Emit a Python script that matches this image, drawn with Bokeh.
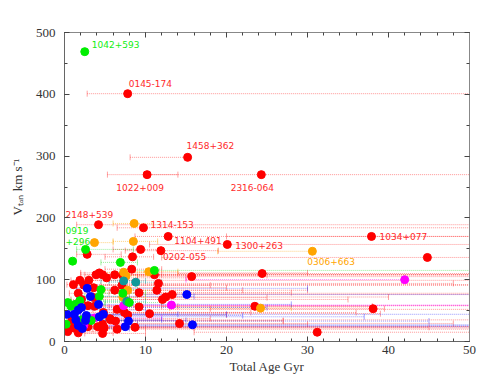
import math
from bokeh.plotting import figure
from bokeh.models import ColumnDataSource, LinearAxis, Range1d, FixedTicker
from bokeh.core.properties import value
from bokeh.embed import file_html
from bokeh.resources import INLINE

# ---------------- data ----------------
red_x = [7.8, 15.2, 10.2, 24.3, 4.2, 9.75, 12.8, 20.1, 11.9, 37.9, 44.8, 2.8, 9.4, 8.4,
         11.1, 15.7, 11.6, 11.4, 12.1, 12.5, 13.3, 10.5, 14.2, 6.2, 7.2, 8.3, 7.1, 9.2,
         9.2, 6.2, 6.5, 7.4, 7.8, 6.3, 8.7, 5.6, 6.5, 4.3, 3.9, 4.7, 5.2, 3.6, 3.0, 3.6,
         2.9, 3.7, 4.8, 4.1, 4.9, 4.7, 5.7, 4.7, 1.1, 1.9, 1.7, 2.1, 2.4, 0.4, 0.9, 1.1,
         1.7, 2.0, 3.2, 2.9, 24.4, 23.5, 38.1, 31.2]
red_y = [401, 298, 270, 270, 189, 184, 170, 157, 147, 170, 136, 141, 149, 137,
         108, 105, 94, 83, 68, 72, 76, 45, 29, 108, 107, 117, 91, 79,
         56, 83, 52, 47, 43, 33, 23, 37, 20, 111, 108, 108, 103, 87, 99, 71,
         58, 57, 47, 24, 22, 13, 35, 28, 92, 99, 78, 68, 91, 16, 34, 22,
         14, 22, 34, 24, 110, 57, 53, 15]
red_lo = [2.8, 8.1, 5.3, 9.8, 1.5, 6.5, 8.7, 10.5, 7.5, 20.0, 12.0, 1.5, 6.0, 5.0,
          6.5, 9.0, 7.0, 6.5, 8.0, 8.0, 9.0, 6.0, 9.0, 3.5, 4.0, 5.0, 4.5, 5.5,
          5.5, 3.5, 3.5, 4.5, 4.5, 3.5, 5.0, 3.0, 3.5, 2.0, 2.0, 2.5, 3.0, 1.5, 1.5, 1.5,
          1.5, 2.0, 2.5, 2.0, 2.5, 2.5, 3.0, 2.5, 0.3, 0.8, 0.6, 0.8, 1.0, 0.1, 0.3, 0.4,
          0.6, 0.8, 1.5, 1.2, 14.0, 12.0, 18.0, 16.0]
red_hi = [60, 15.2, 14.0, 60, 60, 60, 50, 60, 19.0, 60, 60, 7.0, 12.0, 11.0,
          60, 60, 48, 30, 35, 40, 60, 39, 48, 60, 25, 12, 60, 28,
          38, 22, 60, 36, 20, 27, 45, 18, 60, 30, 12, 60, 15, 20, 60, 25,
          60, 14, 23, 60, 16, 10, 60, 30, 60, 9, 60, 12, 18, 5, 8, 60,
          6, 10, 27, 60, 60, 38, 39.5, 60]

green_x = [2.5, 2.6, 1.0, 6.9, 11.1, 4.5, 4.3, 7.2, 8.0, 0.4, 0.8, 1.3, 1.9, 2.1, 0.2, 3.3]
green_y = [469, 149, 130, 128, 115, 84, 73, 78, 63, 63, 57, 60, 66, 35, 28, 34]
green_lo = [2.5, 1.5, 0.6, 4.5, 8.0, 2.5, 2.5, 4.5, 5.0, 0.1, 0.2, 0.5, 0.8, 0.8, 0.0, 1.5]
green_hi = [2.5, 8.5, 1.4, 9.0, 60, 9.0, 8.0, 10.0, 12.0, 4.0, 3.0, 5.0, 7.0, 6.0, 2.0, 8.0]

blue_x = [15.1, 15.8, 7.9, 7.5, 2.8, 3.2, 4.2, 4.3, 4.8, 0.3, 1.2, 1.7, 2.1, 1.4, 1.7, 2.2, 2.7, 2.6]
blue_y = [76, 27, 33, 24, 86, 73, 60, 40, 44, 44, 44, 51, 55, 35, 26, 21, 42, 34]
blue_lo = [9.0, 9.0, 4.5, 4.5, 1.5, 1.5, 2.0, 2.0, 2.5, 0.0, 0.4, 0.6, 0.8, 0.5, 0.6, 0.8, 1.2, 1.0]
blue_hi = [60, 60, 45, 60, 30, 16, 28, 37, 20, 14, 60, 10, 25, 12, 60, 8, 22, 15]

orange_x = [8.6, 3.7, 8.5, 10.4, 7.3, 7.6, 7.8, 7.2, 30.6, 24.2]
orange_y = [191, 160, 162, 113, 112, 106, 83, 72, 146, 54]
orange_lo = [6.0, 2.0, 6.0, 7.0, 4.5, 4.5, 5.0, 4.5, 18.9, 13.0]
orange_hi = [11.0, 6.0, 11.5, 14.0, 10.0, 11.0, 11.0, 10.0, 30.6, 28.0]

magenta_x = [13.2, 7.3, 3.7, 2.4, 42.0]
magenta_y = [59, 58, 38, 26, 100]
magenta_lo = [8.0, 4.5, 2.0, 1.0, 15.0]
magenta_hi = [60, 60, 12, 7, 42.0]

teal_x = [7.3, 8.8, 7.7]
teal_y = [98, 96, 65]
teal_lo = [4.5, 5.5, 4.5]
teal_hi = [10, 12, 10]

label_names = ["1042+593", "0145-174", "1458+362", "1022+009", "2316-064", "2148+539",
               "1314-153", "1104+491", "1300+263", "0202-055", "1034+077", "0306+663",
               "0919\n+296"]
label_x = [2.5, 7.8, 15.2, 10.2, 24.3, 4.2, 9.75, 12.8, 20.1, 11.9, 37.9, 30.6, 2.6]
label_y = [469, 401, 298, 270, 270, 189, 184, 170, 157, 147, 170, 146, 149]
label_group = ["green", "red", "red", "red", "red", "red", "red", "red", "red", "red",
               "red", "orange", "green"]

x_ticks = [0, 10, 20, 30, 40, 50]
y_ticks = [0, 100, 200, 300, 400, 500]

# ---------------- styles ----------------
point_colors = {"red": "#ff0000", "green": "#00ee00", "blue": "#0000ff",
                "orange": "#ffa500", "magenta": "#ff00ff", "teal": "#119999"}
bar_colors = {"red": "#ff3030", "green": "#33dd33", "blue": "#3333ff",
              "orange": "#ffa500", "magenta": "#ff00ff", "teal": "#119999"}
label_colors = {"red": "#ff2a2a", "green": "#11ee11", "orange": "#ffa500"}
# (x_offset, y_offset, align) in screen px per label (baseline middle)
label_style = [(7, -7, "left"), (1, -10, "left"), (-1, -12, "left"), (-7, 13, "center"),
               (-9, 13, "center"), (-33, -10, "left"), (7, -3, "left"), (6, 4, "left"),
               (8, 1, "left"), (2, 6, "left"), (8, 0, "left"), (-5, 10, "left"),
               (-20, -13, "left")]

groups = [
    ("red", red_x, red_y, red_lo, red_hi),
    ("magenta", magenta_x, magenta_y, magenta_lo, magenta_hi),
    ("orange", orange_x, orange_y, orange_lo, orange_hi),
    ("teal", teal_x, teal_y, teal_lo, teal_hi),
    ("green", green_x, green_y, green_lo, green_hi),
    ("blue", blue_x, blue_y, blue_lo, blue_hi),
]

SERIF = "Liberation Serif"

p = figure(width=495, height=380, output_backend="svg", toolbar_location=None,
           x_range=Range1d(0, 50), y_range=Range1d(0, 500),
           min_border_left=64, min_border_right=26, min_border_top=32, min_border_bottom=39,
           x_axis_label="Total Age Gyr", y_axis_label="Vₜₐₙ km s⁻¹")
p.xgrid.visible = False
p.ygrid.visible = False
p.outline_line_color = "#888888"
p.background_fill_color = "white"
p.border_fill_color = "white"

# error bars first
for name, xs, ys, lo, hi in groups:
    src = ColumnDataSource(dict(x=xs, y=ys, lo=lo, hi=hi))
    p.segment(x0="lo", y0="y", x1="hi", y1="y", source=src, line_color=bar_colors[name],
              line_width=1, line_dash="1 1", line_alpha=0.5)
    p.scatter(x="lo", y="y", source=src, marker="dash", angle=math.pi / 2, size=6,
              line_color=bar_colors[name], line_alpha=0.45, line_width=1)
    p.scatter(x="hi", y="y", source=src, marker="dash", angle=math.pi / 2, size=6,
              line_color=bar_colors[name], line_alpha=0.45, line_width=1)

# points
for name, xs, ys, lo, hi in groups:
    src = ColumnDataSource(dict(x=xs, y=ys))
    p.scatter(x="x", y="y", source=src, size=8, fill_color=point_colors[name],
              line_color=point_colors[name], line_width=1)

# labels
for nm, lx, ly, grp, (xo, yo, al) in zip(label_names, label_x, label_y, label_group, label_style):
    p.text(x=[lx], y=[ly], text=[nm], x_offset=xo, y_offset=yo,
           text_align=al, text_baseline="middle", text_font=value("DejaVu Sans"),
           text_font_size="9px", text_color=label_colors[grp], text_line_height=1.1)

# axes
for ax in (p.xaxis[0], p.yaxis[0]):
    ax.major_tick_in = 5
    ax.major_tick_out = 0
    ax.minor_tick_in = 3
    ax.minor_tick_out = 0
    ax.axis_line_color = "#666666"
    ax.major_tick_line_color = "#444444"
    ax.minor_tick_line_color = "#444444"
    ax.major_label_text_font = SERIF
    ax.major_label_text_font_size = "13px"
    ax.major_label_text_color = "#333333"
    ax.axis_label_text_font = SERIF
    ax.axis_label_text_font_size = "13px"
    ax.axis_label_text_font_style = "normal"
    ax.axis_label_text_color = "#333333"

p.xaxis[0].ticker = FixedTicker(ticks=x_ticks, minor_ticks=list(range(0, 51, 2)))
p.yaxis[0].ticker = FixedTicker(ticks=y_ticks, minor_ticks=list(range(0, 501, 50)))
p.xaxis[0].major_label_standoff = 4
p.xaxis[0].axis_label_standoff = 2
p.yaxis[0].major_label_standoff = 9
p.yaxis[0].axis_label_standoff = 8

top = LinearAxis(ticker=FixedTicker(ticks=x_ticks, minor_ticks=list(range(0, 51, 2))))
right = LinearAxis(ticker=FixedTicker(ticks=y_ticks, minor_ticks=list(range(0, 501, 50))))
for ax in (top, right):
    ax.major_tick_in = 5
    ax.major_tick_out = 0
    ax.minor_tick_in = 3
    ax.minor_tick_out = 0
    ax.axis_line_color = "#888888"
    ax.major_tick_line_color = "#444444"
    ax.minor_tick_line_color = "#444444"
    ax.major_label_text_font_size = "1px"
    ax.major_label_text_alpha = 0
    ax.major_label_standoff = 0
p.add_layout(top, "above")
p.add_layout(right, "right")

open("out.html", "w").write(file_html(p, INLINE))
